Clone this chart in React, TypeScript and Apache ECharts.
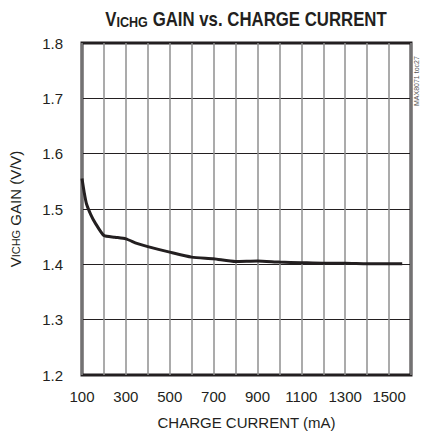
import React, { useEffect, useRef } from "react";
import * as echarts from "echarts";

const currentMA = [100, 110, 120, 140, 160, 200, 250, 300, 350, 400, 500, 600, 700, 800, 900, 1000, 1100, 1200, 1300, 1400, 1560];
const gainVV = [1.555, 1.53, 1.51, 1.49, 1.475, 1.452, 1.449, 1.446, 1.438, 1.432, 1.422, 1.413, 1.41, 1.405, 1.406, 1.404, 1.403, 1.402, 1.402, 1.401, 1.401];
const xLabels = [100, 300, 500, 700, 900, 1100, 1300, 1500];

const FONT = "'Liberation Sans', Arial, sans-serif";

export default function App() {
  const ref = useRef<HTMLDivElement>(null);
  useEffect(() => {
    if (!ref.current) return;
    const chart = echarts.init(ref.current, undefined, { renderer: "svg" });
    chart.setOption({
      animation: false,
      backgroundColor: "#ffffff",
      grid: {
        left: 81,
        top: 43,
        right: 11,
        bottom: 64,
        show: true,
        borderColor: "#231f20",
        borderWidth: 3,
      },
      xAxis: {
        type: "value",
        min: 100,
        max: 1600,
        interval: 100,
        name: "CHARGE CURRENT (mA)",
        nameLocation: "middle",
        nameGap: 40,
        nameTextStyle: { fontFamily: FONT, fontSize: 15, color: "#231f20" },
        axisLine: { show: false },
        axisTick: { show: false },
        axisLabel: {
          margin: 14,
          fontFamily: FONT,
          fontSize: 15,
          color: "#231f20",
          formatter: (v: number) => (xLabels.includes(v) ? String(v) : ""),
        },
        splitLine: { show: true, lineStyle: { color: "#8f8f8f", width: 1.5 } },
      },
      yAxis: {
        type: "value",
        min: 1.2,
        max: 1.8,
        interval: 0.1,
        name: "{v|V}{s|ICHG}{v| GAIN (V/V)}",
        nameLocation: "middle",
        nameGap: 59,
        nameRotate: 90,
        nameTextStyle: {
          rich: {
            v: { fontFamily: FONT, fontSize: 15, color: "#231f20" },
            s: { fontFamily: FONT, fontSize: 11, color: "#231f20" },
          },
        },
        axisLine: { show: false },
        axisTick: { show: false },
        axisLabel: {
          margin: 19,
          fontFamily: FONT,
          fontSize: 15,
          color: "#231f20",
          formatter: (v: number) => v.toFixed(1),
        },
        splitLine: { show: true, lineStyle: { color: "#231f20", width: 1.2 } },
      },
      graphic: [
        {
          type: "text",
          x: 246,
          y: 8,
          scaleX: 0.84,
          style: {
            text: "{v|V}{s|ICHG}{v| GAIN vs. CHARGE CURRENT}",
            textAlign: "center",
            rich: {
              v: { fontFamily: FONT, fontWeight: "bold", fontSize: 20, fill: "#231f20" },
              s: { fontFamily: FONT, fontWeight: "bold", fontSize: 15, fill: "#231f20", padding: [6, 0, 0, 0] },
            },
          },
        },
        {
          type: "text",
          x: 413,
          y: 106,
          rotation: Math.PI / 2,
          style: { text: "MAX8071 toc27", fontFamily: FONT, fontSize: 7, fill: "#555" },
        },
      ],
      series: [
        {
          type: "line",
          data: currentMA.map((c, i) => [c, gainVV[i]]),
          showSymbol: false,
          smooth: 0.2,
          lineStyle: { color: "#231f20", width: 3 },
        },
      ],
    });
    return () => chart.dispose();
  }, []);
  return <div ref={ref} style={{ width: 422, height: 439, position: "absolute", left: 0, top: 0 }} />;
}
